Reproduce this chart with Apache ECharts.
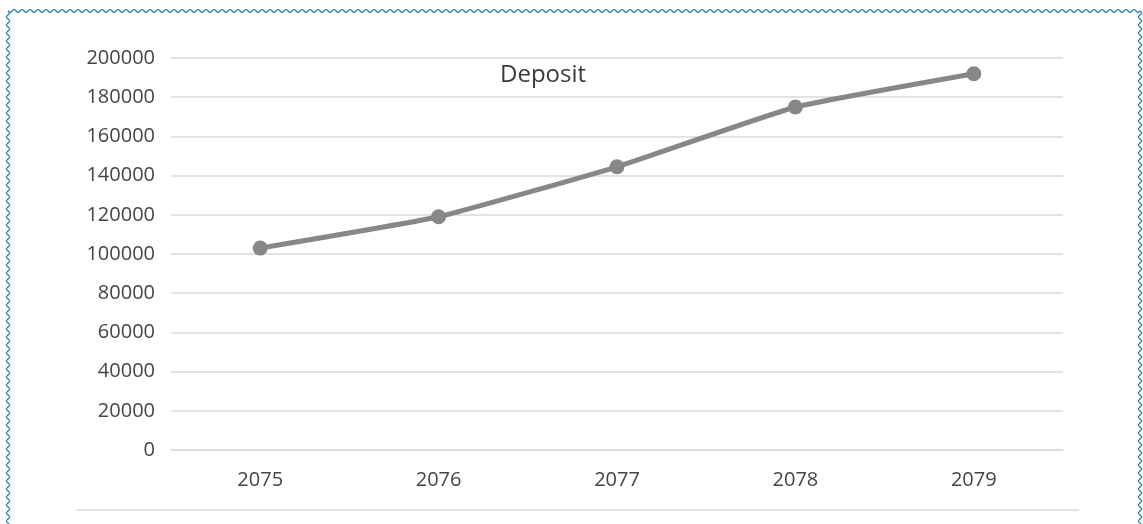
<!DOCTYPE html>
<html><head><meta charset="utf-8">
<script src="https://cdn.jsdelivr.net/npm/echarts@6/dist/echarts.min.js"></script>
<style>html,body{margin:0;padding:0;background:#fff}#c{width:1143px;height:524px}</style>
</head><body><div id="c"></div>
<script>
const categories = ['2075', '2076', '2077', '2078', '2079'];
const depositValues = [103000, 119000, 144500, 175000, 192000];
const yTicks = [0, 20000, 40000, 60000, 80000, 100000, 120000, 140000, 160000, 180000, 200000];

const chart = echarts.init(document.getElementById('c'), null, {renderer: 'canvas'});

function wave(x0, y0, x1, y1, horizontal) {
  const pts = [];
  const period = 8, amp = 1.6;
  if (horizontal) {
    for (let x = x0; x <= x1; x += 1) pts.push([x, y0 + amp * Math.sin(2 * Math.PI * (x - x0) / period)]);
  } else {
    for (let y = y0; y <= y1; y += 1) pts.push([x0 + amp * Math.sin(2 * Math.PI * (y - y0) / period), y]);
  }
  return pts;
}
const borderStyle = {stroke: '#1f7fae', lineWidth: 1.2, fill: null};

const option = {
  animation: false,
  backgroundColor: '#ffffff',
  title: {
    text: 'Deposit', left: 495, top: 58,
    textStyle: {fontFamily: 'Open Sans', fontSize: 24, fontWeight: 'normal', color: '#3a3a3a'}
  },
  grid: {left: 171, right: 80, top: 58, bottom: 74, containLabel: false},
  xAxis: {
    type: 'category', data: categories, boundaryGap: true,
    axisLine: {show: true, lineStyle: {color: '#d9d9d9', width: 1.5}},
    axisTick: {show: false},
    axisLabel: {fontFamily: 'Open Sans', fontSize: 20, color: '#454545', margin: 20}
  },
  yAxis: {
    type: 'value', min: yTicks[0], max: yTicks[yTicks.length - 1], interval: yTicks[1] - yTicks[0],
    axisLine: {show: false}, axisTick: {show: false},
    splitLine: {lineStyle: {color: '#d9d9d9', width: 1.5}},
    axisLabel: {fontFamily: 'Open Sans', fontSize: 20, color: '#454545', margin: 16,
      formatter: function (v) { return String(v); }}
  },
  series: [{
    name: 'Deposit', type: 'line', data: depositValues, smooth: 0.12,
    symbol: 'circle', symbolSize: 15,
    lineStyle: {color: '#878787', width: 5},
    itemStyle: {color: '#878787'}
  }],
  graphic: [
    {type: 'polyline', shape: {points: wave(8, 11, 1140, 11, true)}, style: borderStyle, silent: true},
    {type: 'polyline', shape: {points: wave(8, 11, 8, 524, false)}, style: borderStyle, silent: true},
    {type: 'polyline', shape: {points: wave(1140, 11, 1140, 524, false)}, style: borderStyle, silent: true},
    {type: 'line', shape: {x1: 76, y1: 510, x2: 1079, y2: 510}, style: {stroke: '#d9d9d9', lineWidth: 1.5}, silent: true}
  ]
};
chart.setOption(option);
</script></body></html>
